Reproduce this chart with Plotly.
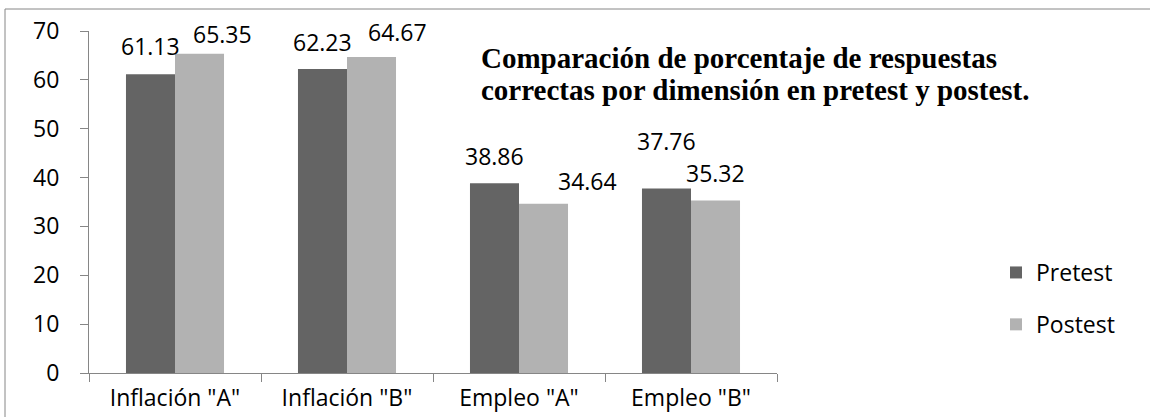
import plotly.graph_objects as go

categories = ['Inflación "A"', 'Inflación "B"', 'Empleo "A"', 'Empleo "B"']
pretest = [61.13, 62.23, 38.86, 37.76]
postest = [65.35, 64.67, 34.64, 35.32]
series_names = ["Pretest", "Postest"]
y_ticks = [0, 10, 20, 30, 40, 50, 60, 70]
title_lines = ["Comparación de porcentaje de respuestas",
               "correctas por dimensión en pretest y postest."]

# style: label pixel shifts (dx, dy) relative to bar top centre
pre_label_shift = [(0, 28), (0, 27), (0, 27), (0, 48)]
post_label_shift = [(23, 20), (26, 25), (44, 23), (0, 27)]

W, H = 1150, 417
ML, MR, MT, MB = 89, 373, 31, 44
PW = W - ML - MR
PH = H - MT - MB
BARGAP = 0.43
cat_px = PW / len(categories)
bar_px = cat_px * (1 - BARGAP) / 2

FONT = "Open Sans"
FS = 23
pre_col = "#646464"
post_col = "#b2b2b2"
axis_col = "#868686"

fig = go.Figure()
fig.add_trace(go.Bar(x=categories, y=pretest, name=series_names[0],
                     marker=dict(color=pre_col, line=dict(width=0)),
                     legendgroup="a"))
fig.add_trace(go.Bar(x=categories, y=postest, name=series_names[1],
                     marker=dict(color=post_col, line=dict(width=0)),
                     legendgroup="b"))

annotations = []
for i, c in enumerate(categories):
    for vals, shifts, sign in ((pretest, pre_label_shift, -1), (postest, post_label_shift, 1)):
        dx, dy = shifts[i]
        annotations.append(dict(
            x=c, y=vals[i], xref="x", yref="y", text=f"{vals[i]:.2f}",
            showarrow=False, xanchor="center", yanchor="middle",
            xshift=sign * bar_px / 2 + dx, yshift=dy,
            font=dict(family=FONT, size=FS, color="#000000")))

title_x = (479 - ML) / PW
for j, (line, ypx) in enumerate(zip(title_lines, [58, 90])):
    annotations.append(dict(
        x=title_x, y=(H - MB - ypx) / PH, xref="paper", yref="paper",
        text=f"<b>{line}</b>", showarrow=False, xanchor="left", yanchor="middle",
        font=dict(family="Liberation Serif", size=29, color="#000000")))

fig.update_layout(
    width=W, height=H,
    margin=dict(l=ML, r=MR, t=MT, b=MB, pad=0, autoexpand=False),
    paper_bgcolor="white", plot_bgcolor="white",
    barmode="group", bargap=BARGAP, bargroupgap=0,
    font=dict(family=FONT, size=FS, color="#000000"),
    annotations=annotations,
    showlegend=True,
    legend=dict(x=(996 - ML) / PW, xanchor="left",
                y=(H - MB - 298.5) / PH, yanchor="middle",
                font=dict(family=FONT, size=FS, color="#000000"),
                tracegroupgap=19, traceorder="grouped",
                bgcolor="rgba(0,0,0,0)"),
    shapes=[dict(type="rect", xref="paper", yref="paper",
                 x0=(5 - ML) / PW, x1=(W + 5 - ML) / PW,
                 y0=(H - MB - 440) / PH, y1=(H - MB - 9) / PH,
                 line=dict(color=axis_col, width=1), fillcolor="rgba(0,0,0,0)",
                 layer="below")],
    xaxis=dict(showline=True, linecolor=axis_col, linewidth=1,
               ticks="outside", ticklen=8, tickcolor=axis_col, tickson="boundaries",
               showgrid=False, zeroline=False,
               tickfont=dict(family=FONT, size=FS, color="#000000"),
               ticklabelstandoff=4),
    yaxis=dict(range=[0, 70], tickvals=y_ticks, showline=True, linecolor=axis_col,
               linewidth=1, ticks="outside", ticklen=8, tickcolor=axis_col,
               showgrid=False, zeroline=False,
               tickfont=dict(family=FONT, size=FS, color="#000000"),
               ticklabelstandoff=16),
)

fig.write_html("out.html",
               config={"displayModeBar": False},
               post_script="document.body.style.margin='0';document.body.style.overflow='hidden';")
